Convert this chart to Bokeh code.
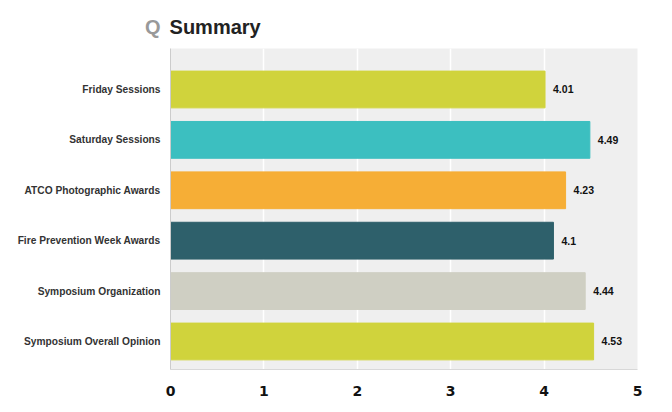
from bokeh.plotting import figure
from bokeh.models import Range1d, FixedTicker, ColumnDataSource, LabelSet, Div
from bokeh.layouts import column
from bokeh.core.properties import value
from bokeh.embed import file_html
from bokeh.resources import INLINE

title_prefix = "Q"
title_text = "Summary"
categories = ["Friday Sessions", "Saturday Sessions", "ATCO Photographic Awards",
              "Fire Prevention Week Awards", "Symposium Organization",
              "Symposium Overall Opinion"]
values = [4.01, 4.49, 4.23, 4.1, 4.44, 4.53]
value_labels = ["4.01", "4.49", "4.23", "4.1", "4.44", "4.53"]
colors = ["#d0d33c", "#3cbfc0", "#f6ae36", "#2e606b", "#cfcfc3", "#d0d33c"]
x_ticks = [0, 1, 2, 3, 4, 5]

pos = [i + 0.5 for i in range(len(categories))]
src = ColumnDataSource(dict(y=pos, v=values, lab=value_labels, c=colors))

title = Div(
    text=('<div style="margin-left:145px;padding-top:15px;font-family:\'Liberation Sans\';'
          'font-weight:bold;font-size:20px;line-height:24px;white-space:nowrap;">'
          '<span style="color:#999999">' + title_prefix + '</span>'
          '<span style="color:#222222;margin-left:9px">' + title_text + '</span></div>'),
    width=664, height=40, margin=(0, 0, 0, 0))

p = figure(width=664, height=364, output_backend="svg", toolbar_location=None,
           x_range=Range1d(0, 5), y_range=Range1d(6.056, -0.313),
           min_border_left=170, min_border_right=27, min_border_top=8,
           min_border_bottom=35, margin=(0, 0, 0, 0))
p.outline_line_color = None
p.background_fill_color = "#efefef"
p.border_fill_color = "white"

p.hbar(y="y", left=0, right="v", height=0.73, color="c", source=src)

p.add_layout(LabelSet(x="v", y="y", text="lab", source=src, x_offset=8,
                      text_baseline="middle", text_font=value("Liberation Sans"),
                      text_font_style="bold", text_font_size="10.5px",
                      text_color="#111111"))

p.xgrid.ticker = FixedTicker(ticks=x_ticks)
p.xgrid.grid_line_color = "white"
p.xgrid.grid_line_width = 1.5
p.ygrid.grid_line_color = None

p.xaxis.ticker = FixedTicker(ticks=x_ticks)
p.xaxis.axis_line_color = "#d8d8d8"
p.xaxis.major_tick_line_color = None
p.xaxis.minor_tick_line_color = None
p.xaxis.major_label_standoff = 10
p.xaxis.major_label_text_font = "DejaVu Sans"
p.xaxis.major_label_text_font_style = "bold"
p.xaxis.major_label_text_font_size = "14px"
p.xaxis.major_label_text_color = "#111111"

p.yaxis.ticker = FixedTicker(ticks=pos)
p.yaxis.major_label_overrides = {pp: c for pp, c in zip(pos, categories)}
p.yaxis.axis_line_color = "#cccccc"
p.yaxis.major_tick_line_color = None
p.yaxis.minor_tick_line_color = None
p.yaxis.major_label_standoff = 4
p.yaxis.major_label_text_font = "Liberation Sans"
p.yaxis.major_label_text_font_style = "bold"
p.yaxis.major_label_text_font_size = "10.2px"
p.yaxis.major_label_text_color = "#333333"

layout = column(title, p, spacing=0)
open("out.html", "w").write(file_html(layout, INLINE))
